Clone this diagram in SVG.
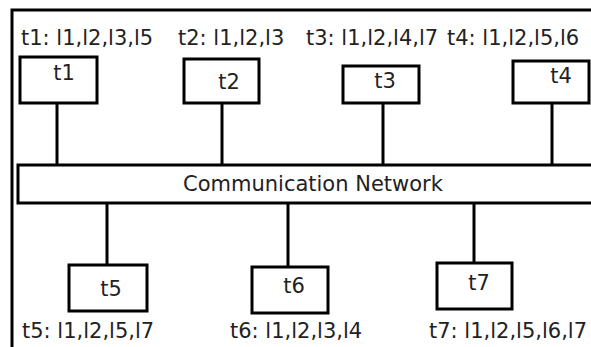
<svg xmlns="http://www.w3.org/2000/svg" width="591" height="347" viewBox="0 0 591 347">
<style>
.box{fill:#fff;stroke:#000;stroke-width:3}
.ln{stroke:#000;stroke-width:3;fill:none}
text{font-family:"DejaVu Sans",Verdana,sans-serif;font-size:21px;fill:#222}
.c{text-anchor:middle}
</style>
<rect width="591" height="347" fill="#fff"/>
<path id="frame" class="ln" d="M12,347 V10 H591"/>
<g id="connectors">
<line class="ln" x1="57" y1="103" x2="57" y2="165"/>
<line class="ln" x1="222" y1="103" x2="222" y2="165"/>
<line class="ln" x1="383" y1="103" x2="383" y2="165"/>
<line class="ln" x1="552" y1="103" x2="552" y2="165"/>
<line class="ln" x1="107" y1="203" x2="107" y2="265"/>
<line class="ln" x1="288" y1="203" x2="288" y2="267"/>
<line class="ln" x1="474" y1="203" x2="474" y2="263"/>
</g>
<g id="network">
<rect class="box" x="18" y="165" width="580" height="38"/>
<text x="183" y="191">Communication Network</text>
</g>
<g id="t1">
<rect class="box" x="20" y="57" width="77" height="46"/>
<text class="c" x="64" y="80">t1</text>
<text x="21" y="45">t1: l1,l2,l3,l5</text>
</g>
<g id="t2">
<rect class="box" x="184" y="59" width="75" height="44"/>
<text class="c" x="229" y="89">t2</text>
<text x="178" y="45">t2: l1,l2,l3</text>
</g>
<g id="t3">
<rect class="box" x="343" y="66" width="76" height="37"/>
<text class="c" x="385" y="88">t3</text>
<text x="306" y="45">t3: l1,l2,l4,l7</text>
</g>
<g id="t4">
<rect class="box" x="513" y="61" width="76" height="42"/>
<text class="c" x="561" y="83">t4</text>
<text x="447" y="45">t4: l1,l2,l5,l6</text>
</g>
<g id="t5">
<rect class="box" x="69" y="265" width="78" height="46"/>
<text class="c" x="111" y="296">t5</text>
<text x="22" y="338">t5: l1,l2,l5,l7</text>
</g>
<g id="t6">
<rect class="box" x="252" y="267" width="76" height="46"/>
<text class="c" x="294" y="293">t6</text>
<text x="230" y="338">t6: l1,l2,l3,l4</text>
</g>
<g id="t7">
<rect class="box" x="437" y="263" width="75" height="46"/>
<text class="c" x="479" y="290">t7</text>
<text x="429" y="338">t7: l1,l2,l5,l6,l7</text>
</g>
</svg>
